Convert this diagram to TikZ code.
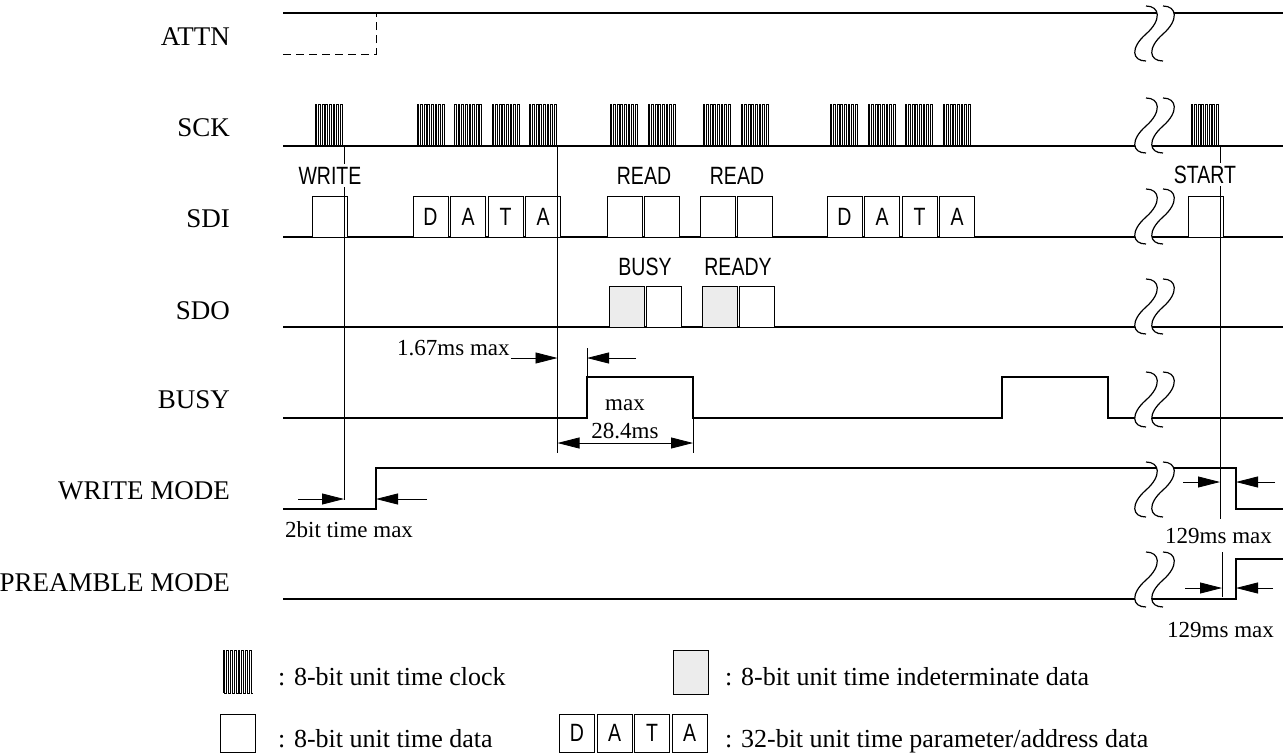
\documentclass[tikz,border=0pt]{standalone}
\usepackage{fontspec}
\setmainfont{Liberation Serif}
\newfontfamily\sansc[FakeStretch=0.78]{Liberation Sans}
\usetikzlibrary{arrows.meta}
\newcommand\burst[4]{\draw[clk] (#1,#2) \foreach \i in {1,...,8} { -- ++(0,-#3) -- ++(#4/16,0) -- ++(0,#3) -- ++(#4/16,0) };}
\newcommand\brksym[1]{%
 \begin{scope}[shift={(0,#1)}]
  \fill[white] (1146,0) .. controls (1160,0) and (1162,14) .. (1146,28) .. controls (1130,42) and (1132,55) .. (1146,55) -- (1163,55) .. controls (1149,55) and (1147,42) .. (1163,28) .. controls (1179,14) and (1177,0) .. (1163,0) -- cycle;
  \draw[sig] (1146,0) .. controls (1160,0) and (1162,14) .. (1146,28) .. controls (1130,42) and (1132,55) .. (1146,55);
  \draw[sig] (1163,0) .. controls (1177,0) and (1179,14) .. (1163,28) .. controls (1147,42) and (1149,55) .. (1163,55);
 \end{scope}}
\begin{document}
\begin{tikzpicture}[x=1pt,y=-1pt,
 sig/.style={line width=1.2pt},
 guide/.style={line width=0.8pt},
 clk/.style={line width=0.9pt},
 bx/.style={draw,line width=1pt,fill=white,minimum width=35pt,minimum height=41pt,inner sep=0pt,font=\sansc\fontsize{25}{28}\selectfont},
 gbx/.style={bx,fill=gray!15},
 lbl/.style={anchor=base east,inner sep=0pt,font=\fontsize{27}{30}\selectfont},
 sl/.style={anchor=base,inner xsep=1pt,inner ysep=3pt,fill=white,font=\sansc\fontsize{25}{28}\selectfont},
 ann/.style={inner sep=0pt,font=\fontsize{23}{26}\selectfont},
 leg/.style={anchor=base west,inner sep=0pt,font=\fontsize{26}{29}\selectfont},
 dim/.style={line width=0.8pt,-{Triangle[length=22pt,width=11pt]}},
 ddim/.style={line width=0.8pt,{Triangle[length=22pt,width=11pt]}-{Triangle[length=22pt,width=11pt]}},
]
\useasboundingbox (0,0) rectangle (1283,753);

% ---- signal labels
\node[lbl] (lATTN) at (230,45) {ATTN};
\node[lbl] (lSCK) at (230,136) {SCK};
\node[lbl] (lSDI) at (230,227) {SDI};
\node[lbl] (lSDO) at (230,319) {SDO};
\node[lbl] (lBUSY) at (230,408) {BUSY};
\node[lbl] (lWM) at (230,499) {WRITE MODE};
\node[lbl] (lPM) at (230,591) {PREAMBLE MODE};

% ---- ATTN
\draw[sig] (283,13) -- (1283,13);
\draw[line width=1pt,dash pattern=on 8pt off 5pt] (283,54) -- (376,54) -- (376,13);

% ---- SCK
\draw[sig] (283,146) -- (1283,146);
\foreach \x in {315,417,454.5,492,529,610,648,703,741,830,868,905,943,1191} {\burst{\x}{146}{42}{29}}

% ---- SDI
\draw[sig] (283,237) -- (1283,237);
\node[bx] (w1) at (329.5,216.5) {};
\node[bx] (d1) at (430.5,216.5) {D};
\node[bx] (d2) at (468,216.5) {A};
\node[bx] (d3) at (505.5,216.5) {T};
\node[bx] (d4) at (543,216.5) {A};
\node[bx] (r1) at (624.5,216.5) {};
\node[bx] (r2) at (662,216.5) {};
\node[bx] (r3) at (717.5,216.5) {};
\node[bx] (r4) at (755,216.5) {};
\node[bx] (e1) at (844.5,216.5) {D};
\node[bx] (e2) at (882,216.5) {A};
\node[bx] (e3) at (919.5,216.5) {T};
\node[bx] (e4) at (957,216.5) {A};
\node[bx] (s1) at (1205.5,216.5) {};

% ---- SDO
\draw[sig] (283,327) -- (1283,327);
\node[gbx] (o1) at (626.5,307) {};
\node[bx] (o2) at (664,307) {};
\node[gbx] (o3) at (719.5,307) {};
\node[bx] (o4) at (757,307) {};

% ---- BUSY
\draw[sig] (283,418) -- (587,418) -- (587,377) -- (693,377) -- (693,418) -- (1002,418) -- (1002,377) -- (1108,377) -- (1108,418) -- (1283,418);

% ---- WRITE MODE
\draw[sig] (283,509) -- (376,509) -- (376,468) -- (1236,468) -- (1236,509) -- (1283,509);

% ---- PREAMBLE MODE
\draw[sig] (283,599) -- (1236,599) -- (1236,559) -- (1283,559);

% ---- break symbols
\foreach \y in {6,98,189,279,372,462,552} {\brksym{\y}}

% ---- guide lines
\coordinate (g1a) at (344,146); \coordinate (g1b) at (344,500);
\coordinate (g2a) at (557.5,146); \coordinate (g2b) at (557.5,453);
\coordinate (g3a) at (1220,146); \coordinate (g3b) at (1220,519);
\coordinate (g4a) at (1222,552); \coordinate (g4b) at (1222,597);
\coordinate (b1a) at (587,348); \coordinate (b1b) at (587,377);
\coordinate (b2a) at (693,418); \coordinate (b2b) at (693,453);
\draw[guide] (g1a) -- (g1b);
\draw[guide] (g2a) -- (g2b);
\draw[guide] (g3a) -- (g3b);
\draw[guide] (g4a) -- (g4b);
\draw[guide] (b1a) -- (b1b);
\draw[guide] (b2a) -- (b2b);

% ---- sans labels
\node[sl] (tW) at (330,184) {WRITE};
\node[sl] (tR1) at (644,184) {READ};
\node[sl] (tR2) at (737,184) {READ};
\node[sl] (tS) at (1205,183) {START};
\node[sl] (tB) at (645,275) {BUSY};
\node[sl] (tRd) at (738,275) {READY};

% ---- dimension arrows
\coordinate (a1) at (298,499); \coordinate (a1t) at (344,499);
\coordinate (a2) at (427,499); \coordinate (a2t) at (376,499);
\draw[dim] (a1) -- (a1t);
\draw[dim] (a2) -- (a2t);
\node[ann,anchor=base west] (t2bit) at (285,537) {2bit time max};

\coordinate (a3) at (511,358); \coordinate (a3t) at (557.5,358);
\coordinate (a4) at (636,358); \coordinate (a4t) at (587,358);
\draw[dim] (a3) -- (a3t);
\draw[dim] (a4) -- (a4t);
\node[ann,anchor=base west] (t167) at (397,355) {1.67ms max};

\coordinate (a5) at (557.5,443); \coordinate (a5t) at (693,443);
\draw[ddim] (a5) -- (a5t);
\node[ann,anchor=base] (tmax) at (625,410) {max};
\node[ann,anchor=base] (t284) at (625,438) {28.4ms};

\coordinate (a6) at (1183,482); \coordinate (a6t) at (1220,482);
\coordinate (a7) at (1275,482); \coordinate (a7t) at (1236,482);
\draw[dim] (a6) -- (a6t);
\draw[dim] (a7) -- (a7t);
\node[ann,anchor=base] (t129a) at (1218.5,543) {129ms max};

\coordinate (a8) at (1185,588); \coordinate (a8t) at (1222,588);
\coordinate (a9) at (1273,588); \coordinate (a9t) at (1236,588);
\draw[dim] (a8) -- (a8t);
\draw[dim] (a9) -- (a9t);
\node[ann,anchor=base] (t129b) at (1220.5,637) {129ms max};

% ---- legend
\burst{223}{693}{43}{30}
\node[leg] (lg1) at (278,685) {: 8-bit unit time clock};
\node[gbx,minimum height=44pt] (lgg) at (691,672) {};
\node[leg] (lg2) at (725,685) {: 8-bit unit time indeterminate data};
\node[bx,minimum height=38pt] (lgw) at (237.5,733) {};
\node[leg] (lg3) at (278,747) {: 8-bit unit time data};
\node[bx,minimum height=38pt] (ld1) at (577,733) {D};
\node[bx,minimum height=38pt] (ld2) at (614.5,733) {A};
\node[bx,minimum height=38pt] (ld3) at (652,733) {T};
\node[bx,minimum height=38pt] (ld4) at (689.5,733) {A};
\node[leg] (lg4) at (725,747) {: 32-bit unit time parameter/address data};
\end{tikzpicture}
\end{document}
